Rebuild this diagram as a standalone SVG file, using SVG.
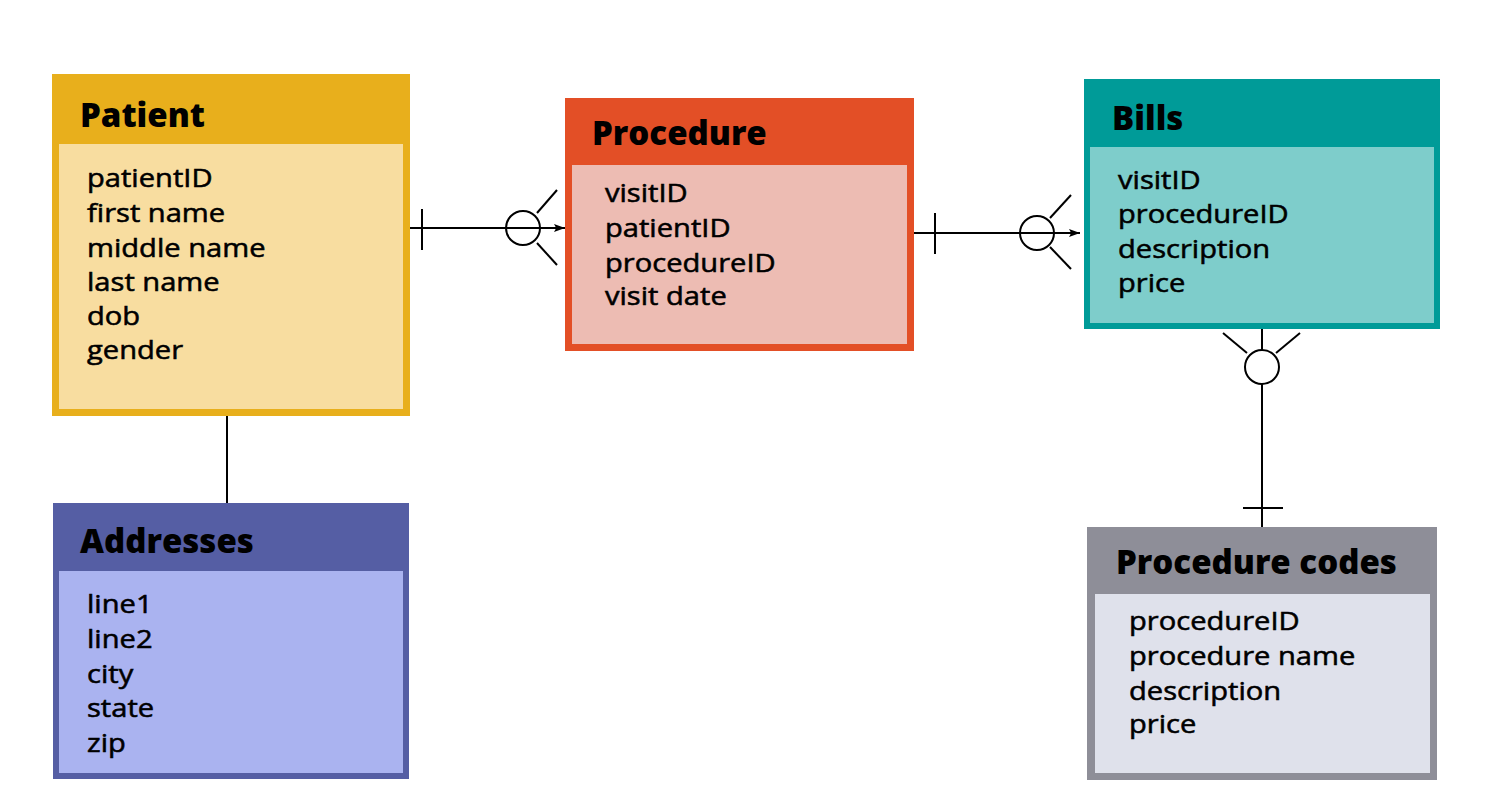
<svg xmlns="http://www.w3.org/2000/svg" width="1500" height="801" viewBox="0 0 1500 801">
<style>
.title{font-family:"Open Sans","Liberation Sans",sans-serif;font-weight:800;font-size:33px;fill:#000}
.attr{font-family:"Open Sans","Liberation Sans",sans-serif;font-weight:500;font-size:26px;fill:#000;stroke:#000;stroke-width:0.55;transform-box:fill-box;transform-origin:0 0;transform:scaleX(1.12)}
.ln{stroke:#000;stroke-width:2;fill:none}
.circ{stroke:#000;stroke-width:2;fill:none}
</style>
<defs>
<marker id="arr" viewBox="0 0 10 10" refX="10" refY="5" markerWidth="11" markerHeight="8" orient="auto" markerUnits="userSpaceOnUse" preserveAspectRatio="none">
<path d="M0,0 L10,5 L0,10 L2,5 Z" fill="#000"/>
</marker>
</defs>
<rect width="1500" height="801" fill="#fff"/>
<g id="connectors">
<line class="ln" x1="410" y1="228" x2="565" y2="228" marker-end="url(#arr)"/>
<line class="ln" x1="422" y1="209" x2="422" y2="250"/>
<line class="ln" x1="537" y1="213" x2="557" y2="190"/>
<line class="ln" x1="537" y1="243" x2="557" y2="265"/>
<circle class="circ" cx="523" cy="228" r="17"/>
<line class="ln" x1="914" y1="233" x2="1080" y2="233" marker-end="url(#arr)"/>
<line class="ln" x1="935" y1="213" x2="935" y2="254"/>
<line class="ln" x1="1050" y1="218" x2="1071" y2="195"/>
<line class="ln" x1="1050" y1="247" x2="1071" y2="269"/>
<circle class="circ" cx="1037" cy="233" r="17"/>
<line class="ln" x1="1262" y1="329" x2="1262" y2="350"/>
<line class="ln" x1="1223" y1="333" x2="1247" y2="353"/>
<line class="ln" x1="1300" y1="333" x2="1276" y2="353"/>
<circle class="circ" cx="1262" cy="367" r="17"/>
<line class="ln" x1="1262" y1="384" x2="1262" y2="527"/>
<line class="ln" x1="1243" y1="508" x2="1283" y2="508"/>
<line class="ln" x1="227" y1="416" x2="227" y2="503"/>
</g>
<g id="patient">
<rect x="52" y="74" width="358" height="342" fill="#E8AF1C"/>
<rect x="59" y="144" width="344" height="265" fill="#F8DDA0"/>
<text class="title" x="80" y="127">Patient</text>
<text class="attr" x="87" y="187">patientID</text>
<text class="attr" x="87" y="222">first name</text>
<text class="attr" x="87" y="257">middle name</text>
<text class="attr" x="87" y="291">last name</text>
<text class="attr" x="87" y="325">dob</text>
<text class="attr" x="87" y="359">gender</text>
</g>
<g id="procedure">
<rect x="565" y="98" width="349" height="253" fill="#E34F26"/>
<rect x="572" y="165" width="335" height="179" fill="#EDBCB3"/>
<text class="title" x="592" y="145">Procedure</text>
<text class="attr" x="605" y="202">visitID</text>
<text class="attr" x="605" y="237">patientID</text>
<text class="attr" x="605" y="272">procedureID</text>
<text class="attr" x="605" y="305">visit date</text>
</g>
<g id="bills">
<rect x="1084" y="79" width="356" height="250" fill="#009B98"/>
<rect x="1090" y="147" width="344" height="176" fill="#7ECDCB"/>
<text class="title" x="1112" y="130">Bills</text>
<text class="attr" x="1118" y="189">visitID</text>
<text class="attr" x="1118" y="223">procedureID</text>
<text class="attr" x="1118" y="258">description</text>
<text class="attr" x="1118" y="292">price</text>
</g>
<g id="addresses">
<rect x="53" y="503" width="356" height="276" fill="#555EA4"/>
<rect x="59" y="571" width="344" height="202" fill="#AAB3F0"/>
<text class="title" x="80" y="553">Addresses</text>
<text class="attr" x="87" y="613">line1</text>
<text class="attr" x="87" y="648">line2</text>
<text class="attr" x="87" y="683">city</text>
<text class="attr" x="87" y="717">state</text>
<text class="attr" x="87" y="752">zip</text>
</g>
<g id="procedure-codes">
<rect x="1087" y="527" width="350" height="253" fill="#8E8E98"/>
<rect x="1095" y="594" width="335" height="179" fill="#DFE1EB"/>
<text class="title" x="1116" y="574">Procedure codes</text>
<text class="attr" x="1129" y="630">procedureID</text>
<text class="attr" x="1129" y="665">procedure name</text>
<text class="attr" x="1129" y="700">description</text>
<text class="attr" x="1129" y="733">price</text>
</g>
</svg>
